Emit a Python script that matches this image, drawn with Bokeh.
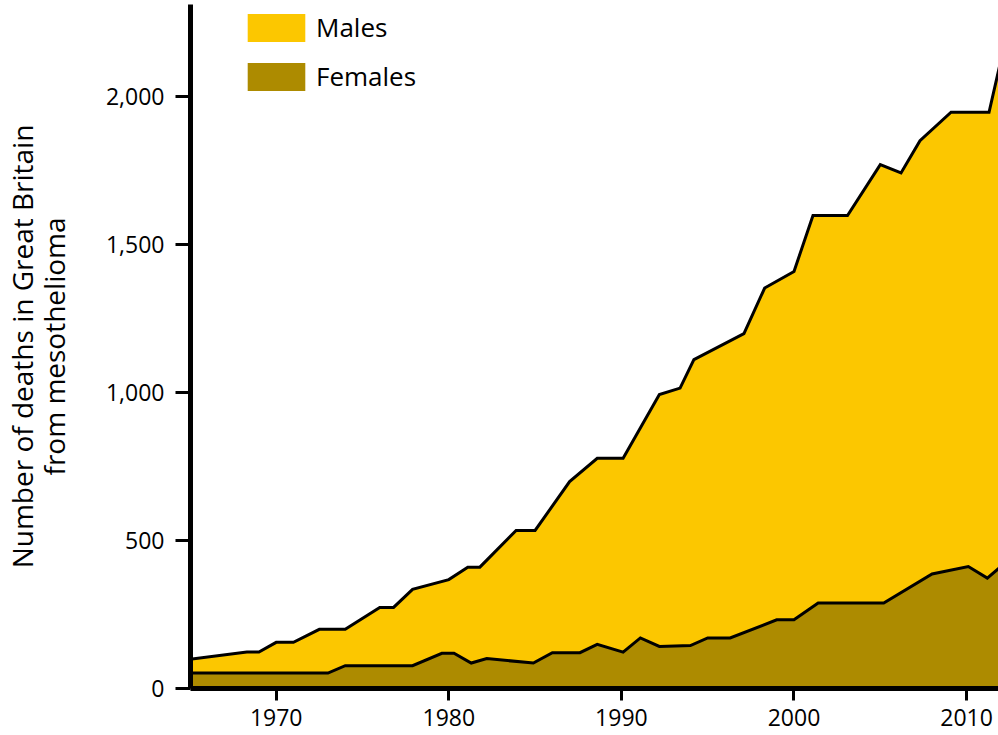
from bokeh.plotting import figure
from bokeh.models import FixedTicker, NumeralTickFormatter, Legend, LegendItem
from bokeh.embed import file_html
from bokeh.resources import INLINE

# ---- data ----
male_years = [1965.0, 1968.3, 1969.0, 1970.0, 1971.0, 1972.5, 1974.0, 1976.0, 1976.8,
              1977.9, 1980.0, 1981.1, 1981.8, 1983.9, 1985.0, 1987.0, 1988.6, 1990.1,
              1992.2, 1993.4, 1994.2, 1997.1, 1998.3, 2000.0, 2001.1, 2003.1, 2005.0,
              2006.2, 2007.3, 2009.1, 2011.3, 2011.9]
male_deaths = [99, 123, 123, 156, 156, 200, 200, 274, 274,
               335, 368, 410, 410, 534, 534, 699, 778, 778,
               993, 1015, 1111, 1199, 1353, 1409, 1598, 1598, 1770,
               1742, 1851, 1947, 1947, 2100]

female_years = [1965.0, 1973.0, 1974.0, 1977.9, 1979.6, 1980.3, 1981.3, 1982.2, 1984.9,
                1986.0, 1987.6, 1988.6, 1990.1, 1991.1, 1992.2, 1994.0, 1995.0, 1996.3,
                1999.0, 2000.0, 2001.4, 2005.2, 2008.0, 2010.1, 2011.2, 2011.9]
female_deaths = [52, 52, 77, 77, 119, 119, 86, 101, 86,
                 121, 121, 149, 123, 171, 142, 145, 171, 171,
                 232, 232, 289, 289, 387, 412, 373, 408]

x_ticks = [1970, 1980, 1990, 2000, 2010]
y_ticks = [0, 500, 1000, 1500, 2000]
series_names = ["Males", "Females"]
y_title = "Number of deaths in Great Britain\nfrom mesothelioma"

MALE_COLOR = "#FCC700"
FEMALE_COLOR = "#AD8B00"
FONT = "Open Sans"

x_start = 1965.035
x_end = 1965.035 + 808 / 17.26

p = figure(width=998, height=735, x_range=(x_start, x_end), y_range=(0, 2311),
           output_backend="svg", toolbar_location=None,
           min_border_left=190, min_border_right=0, min_border_top=4, min_border_bottom=47)

p.outline_line_color = None
p.xgrid.visible = False
p.ygrid.visible = False
p.background_fill_color = "white"

male_area = p.varea(x=male_years, y1=[0] * len(male_years), y2=male_deaths,
                    fill_color=MALE_COLOR)
p.line(male_years, male_deaths, line_color="black", line_width=3, line_join="miter")
female_area = p.varea(x=female_years, y1=[0] * len(female_years), y2=female_deaths,
                      fill_color=FEMALE_COLOR)
p.line(female_years, female_deaths, line_color="black", line_width=3, line_join="miter")

# axes
for ax in (p.xaxis[0], p.yaxis[0]):
    ax.axis_line_width = 5
    ax.axis_line_color = "black"
    ax.major_tick_line_width = 3
    ax.major_tick_line_color = "black"
    ax.major_tick_in = 0
    ax.minor_tick_line_color = None
    ax.major_label_text_font = FONT
    ax.major_label_text_font_size = "23px"
    ax.major_label_text_color = "black"

p.xaxis.ticker = FixedTicker(ticks=x_ticks)
p.xaxis.major_tick_out = 12
p.xaxis.major_label_standoff = 8

p.yaxis.ticker = FixedTicker(ticks=y_ticks)
p.yaxis.formatter = NumeralTickFormatter(format="0,0")
p.yaxis.major_tick_out = 15
p.yaxis.major_label_standoff = 11
p.yaxis.axis_label = y_title
p.yaxis.axis_label_text_font = FONT
p.yaxis.axis_label_text_font_size = "28px"
p.yaxis.axis_label_text_font_style = "normal"
p.yaxis.axis_label_text_color = "black"
p.yaxis.axis_label_text_line_height = 0.84
p.yaxis.axis_label_standoff = 30

legend = Legend(items=[LegendItem(label=series_names[0], renderers=[male_area]),
                       LegendItem(label=series_names[1], renderers=[female_area])],
                location=(50, 594), padding=0, margin=0, spacing=13,
                glyph_width=72, glyph_height=35, label_height=35,
                label_standoff=4, border_line_color=None,
                background_fill_alpha=0,
                label_text_font=FONT, label_text_font_size="26px",
                label_text_color="black")
p.add_layout(legend)

open("out.html", "w").write(file_html(p, INLINE))
